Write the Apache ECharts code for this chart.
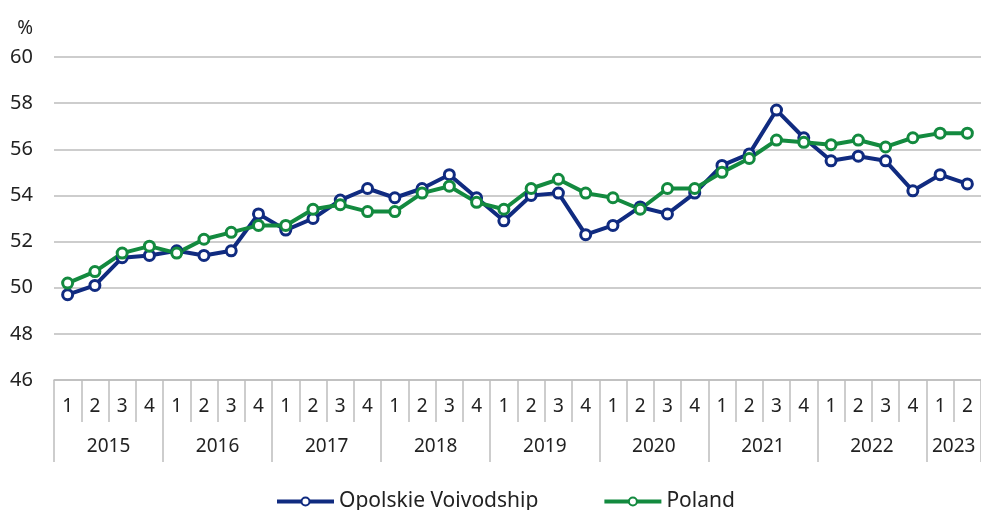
<!DOCTYPE html>
<html>
<head>
<meta charset="utf-8">
<script src="https://cdn.jsdelivr.net/npm/echarts@6/dist/echarts.min.js"></script>
<style>
  html, body { margin: 0; padding: 0; background: #fff; }
  #chart { width: 981px; height: 510px; }
</style>
</head>
<body>
<div id="chart"></div>
<script>
// quarters and years on the two-level axis
const years = ['2015', '2016', '2017', '2018', '2019', '2020', '2021', '2022', '2023']
const quarters = []
const yearOfPoint = []
years.forEach(y => {
  const n = y === '2023' ? 2 : 4
  for (let q = 1; q <= n; q++) {
    quarters.push(String(q))
    yearOfPoint.push(y)
  }
})

// values, %
const opolskie = [
  49.7, 50.1, 51.3, 51.4,
  51.6, 51.4, 51.6, 53.2,
  52.5, 53.0, 53.8, 54.3,
  53.9, 54.3, 54.9, 53.9,
  52.9, 54.0, 54.1, 52.3,
  52.7, 53.5, 53.2, 54.1,
  55.3, 55.8, 57.7, 56.5,
  55.5, 55.7, 55.5, 54.2,
  54.9, 54.5
]
const poland = [
  50.2, 50.7, 51.5, 51.8,
  51.5, 52.1, 52.4, 52.7,
  52.7, 53.4, 53.6, 53.3,
  53.3, 54.1, 54.4, 53.7,
  53.4, 54.3, 54.7, 54.1,
  53.9, 53.4, 54.3, 54.3,
  55.0, 55.6, 56.4, 56.3,
  56.2, 56.4, 56.1, 56.5,
  56.7, 56.7
]

const font = 'Noto Sans'
const textColor = '#222'
const axisGray = '#bdbdbd'
const halfBand = 927 / quarters.length / 2

const chart = echarts.init(document.getElementById('chart'))

const lineSeries = (name, data, color) => ({
  name,
  type: 'line',
  data,
  symbol: 'circle',
  symbolSize: 10,
  lineStyle: { color, width: 4 },
  itemStyle: { color: '#fff', borderColor: color, borderWidth: 3 },
  emphasis: { disabled: true },
  animation: false
})

chart.setOption({
  textStyle: { fontFamily: font },
  grid: { left: 54, top: 57, width: 927, height: 323, containLabel: false },
  legend: {
    bottom: -7,
    left: 270,
    itemWidth: 57,
    itemHeight: 10,
    itemGap: 64,
    lineStyle: { width: 4 },
    textStyle: { fontFamily: font, fontSize: 21, color: textColor },
    data: ['Opolskie Voivodship', 'Poland']
  },
  xAxis: [
    {
      type: 'category',
      data: quarters,
      boundaryGap: true,
      position: 'bottom',
      axisLine: { lineStyle: { color: axisGray, width: 1.5 } },
      axisTick: { show: true, interval: 0, length: 42, lineStyle: { color: axisGray, width: 1.5 } },
      axisLabel: { interval: 0, margin: 17, fontSize: 19, color: textColor, fontFamily: font }
    },
    {
      type: 'category',
      data: yearOfPoint,
      boundaryGap: true,
      position: 'bottom',
      axisLine: { show: false },
      axisTick: { show: true, interval: 3, length: 82, lineStyle: { color: axisGray, width: 1.5 } },
      axisLabel: {
        interval: (i) => (i < 32 ? i % 4 === 1 : i === 32),
        margin: 57,
        fontSize: 19,
        color: textColor,
        fontFamily: font,
        padding: [0, 0, 0, halfBand * 2]
      }
    }
  ],
  yAxis: {
    type: 'value',
    min: 46,
    max: 60,
    interval: 2,
    name: '%',
    nameLocation: 'end',
    nameGap: 19,
    nameTextStyle: { fontSize: 19, color: textColor, fontFamily: font, align: 'right', padding: [0, 21, 0, 0] },
    axisLine: { show: false },
    axisTick: { show: false },
    axisLabel: { margin: 21, fontSize: 20, color: textColor, fontFamily: font },
    splitLine: { lineStyle: { color: axisGray, width: 1.5 } }
  },
  series: [
    lineSeries('Opolskie Voivodship', opolskie, '#102b80'),
    lineSeries('Poland', poland, '#138a3f')
  ]
})
</script>
</body>
</html>
